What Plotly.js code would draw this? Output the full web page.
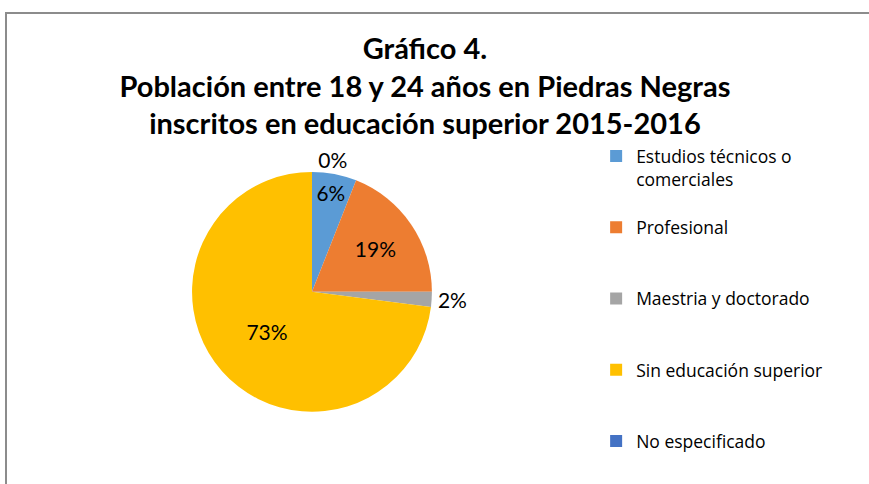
<!DOCTYPE html>
<html>
<head>
<meta charset="utf-8">
<script src="https://cdn.plot.ly/plotly-3.0.1.min.js"></script>
<style>
  html, body { margin: 0; padding: 0; background: #fff; }
  #frame { position: absolute; left: 5px; top: 12px; width: 870px; height: 480px; border-left: 2px solid #8c8c8c; border-top: 2px solid #8c8c8c; }
  #chart { position: absolute; left: 0; top: 0; width: 869px; height: 484px; }
</style>
</head>
<body>
<div id="frame"></div>
<div id="chart"></div>
<script>
const categories = ["Estudios técnicos o comerciales", "Profesional", "Maestria y doctorado", "Sin educación superior", "No especificado"];
const legendLabels = ["Estudios técnicos o<br>comerciales", "Profesional", "Maestria y doctorado", "Sin educación superior", "No especificado"];
const values = [6, 19, 2, 73, 0];
const colors = ["#5B9BD5", "#ED7D31", "#A5A5A5", "#FFC000", "#4472C4"];
const textPositions = ["inside", "inside", "outside", "inside", "outside"];

// pad legend entries (except the last) so they are spaced like the reference
const padded = legendLabels.map((l, i) => {
  if (i === legendLabels.length - 1) return l;
  const n = l.split("<br>").length;
  let s = l;
  for (let k = n; k < 3; k++) s += "<br>&nbsp;";
  return s;
});

const trace = {
  type: "pie",
  labels: padded,
  values: values,
  sort: false,
  direction: "clockwise",
  rotation: 0,
  marker: { colors: colors, line: { width: 0 } },
  textinfo: "percent",
  textposition: textPositions,
  insidetextorientation: "horizontal",
  textfont: { family: "Lato, 'Open Sans', sans-serif", size: 21, color: "#000" },
  hovertext: categories,
  hoverinfo: "text+percent",
  domain: { x: [0.221, 0.497], y: [0.149, 0.645] }
};

const layout = {
  width: 869, height: 484,
  margin: { l: 0, r: 0, t: 0, b: 0 },
  paper_bgcolor: "rgba(0,0,0,0)",
  plot_bgcolor: "rgba(0,0,0,0)",
  title: {
    text: "<b>Gráfico 4.<br>Población entre 18 y 24 años en Piedras Negras<br>inscritos en educación superior 2015-2016</b>",
    font: { family: "Lato, 'Open Sans', sans-serif", size: 29, color: "#000" },
    x: 0.489, xanchor: "center",
    y: 0.878, yanchor: "top"
  },
  showlegend: true,
  legend: {
    x: 0.686, xanchor: "left",
    y: 0.7145, yanchor: "top",
    valign: "top",
    font: { family: "'Open Sans', Lato, sans-serif", size: 17.5, color: "#000" },
    bgcolor: "rgba(0,0,0,0)"
  }
};

Plotly.newPlot("chart", [trace], layout, { displayModeBar: false, staticPlot: true });
</script>
</body>
</html>
